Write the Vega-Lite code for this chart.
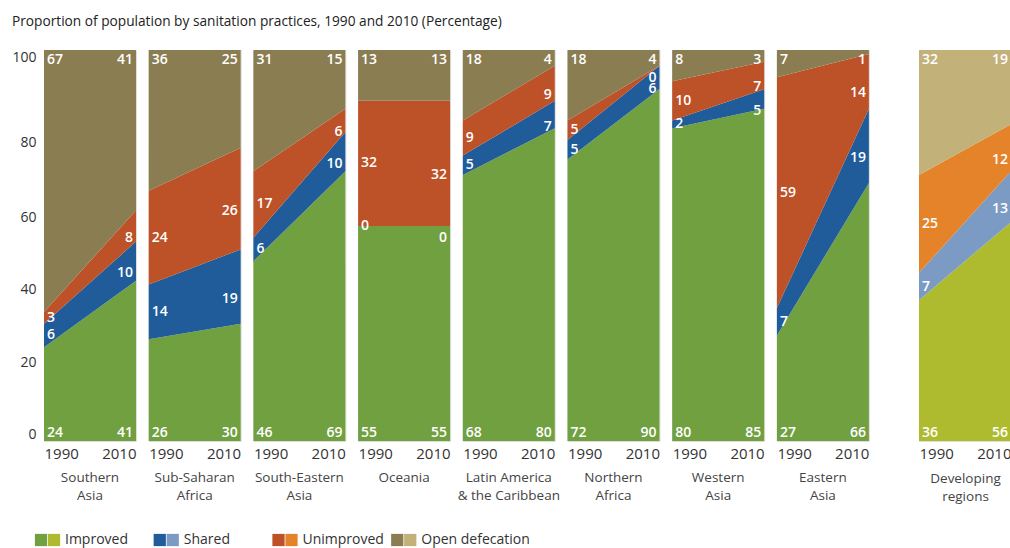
{
  "$schema": "https://vega.github.io/schema/vega-lite/v6.json",
  "background": "white",
  "padding": {"left": 11, "top": 14, "right": 0, "bottom": 0},
  "title": {"text": "Proportion of population by sanitation practices, 1990 and 2010 (Percentage)", "anchor": "start", "frame": "bounds", "font": "Open Sans", "fontSize": 13.7, "fontWeight": "normal", "color": "#222", "offset": 21},
  "config": {
    "font": "Open Sans",
    "view": {"stroke": "#dddddd"},
    "axis": {"ticks": false, "domain": false, "grid": false, "labelFont": "Open Sans", "labelColor": "#333"},
    "axisX": {"labelAngle": 0, "labelFlush": true, "labelFontSize": 15, "labelPadding": 5},
    "axisY": {"labelFontSize": 14, "labelFlush": true, "labelPadding": 8},
    "header": {"labelOrient": "bottom", "labelFont": "Open Sans", "labelFontSize": 13.5, "labelColor": "#444", "labelLineHeight": 18, "labelPadding": 10}
  },
  "datasets": {
    "d": [
      {"region": "Southern Asia", "year": "1990", "cat": "Improved", "k": 1, "value": 24},
      {"region": "Southern Asia", "year": "1990", "cat": "Shared", "k": 2, "value": 6},
      {"region": "Southern Asia", "year": "1990", "cat": "Unimproved", "k": 3, "value": 3},
      {"region": "Southern Asia", "year": "1990", "cat": "Open defecation", "k": 4, "value": 67},
      {"region": "Southern Asia", "year": "2010", "cat": "Improved", "k": 1, "value": 41},
      {"region": "Southern Asia", "year": "2010", "cat": "Shared", "k": 2, "value": 10},
      {"region": "Southern Asia", "year": "2010", "cat": "Unimproved", "k": 3, "value": 8},
      {"region": "Southern Asia", "year": "2010", "cat": "Open defecation", "k": 4, "value": 41},
      {"region": "Sub-Saharan Africa", "year": "1990", "cat": "Improved", "k": 1, "value": 26},
      {"region": "Sub-Saharan Africa", "year": "1990", "cat": "Shared", "k": 2, "value": 14},
      {"region": "Sub-Saharan Africa", "year": "1990", "cat": "Unimproved", "k": 3, "value": 24},
      {"region": "Sub-Saharan Africa", "year": "1990", "cat": "Open defecation", "k": 4, "value": 36},
      {"region": "Sub-Saharan Africa", "year": "2010", "cat": "Improved", "k": 1, "value": 30},
      {"region": "Sub-Saharan Africa", "year": "2010", "cat": "Shared", "k": 2, "value": 19},
      {"region": "Sub-Saharan Africa", "year": "2010", "cat": "Unimproved", "k": 3, "value": 26},
      {"region": "Sub-Saharan Africa", "year": "2010", "cat": "Open defecation", "k": 4, "value": 25},
      {"region": "South-Eastern Asia", "year": "1990", "cat": "Improved", "k": 1, "value": 46},
      {"region": "South-Eastern Asia", "year": "1990", "cat": "Shared", "k": 2, "value": 6},
      {"region": "South-Eastern Asia", "year": "1990", "cat": "Unimproved", "k": 3, "value": 17},
      {"region": "South-Eastern Asia", "year": "1990", "cat": "Open defecation", "k": 4, "value": 31},
      {"region": "South-Eastern Asia", "year": "2010", "cat": "Improved", "k": 1, "value": 69},
      {"region": "South-Eastern Asia", "year": "2010", "cat": "Shared", "k": 2, "value": 10},
      {"region": "South-Eastern Asia", "year": "2010", "cat": "Unimproved", "k": 3, "value": 6},
      {"region": "South-Eastern Asia", "year": "2010", "cat": "Open defecation", "k": 4, "value": 15},
      {"region": "Oceania", "year": "1990", "cat": "Improved", "k": 1, "value": 55},
      {"region": "Oceania", "year": "1990", "cat": "Shared", "k": 2, "value": 0},
      {"region": "Oceania", "year": "1990", "cat": "Unimproved", "k": 3, "value": 32},
      {"region": "Oceania", "year": "1990", "cat": "Open defecation", "k": 4, "value": 13},
      {"region": "Oceania", "year": "2010", "cat": "Improved", "k": 1, "value": 55},
      {"region": "Oceania", "year": "2010", "cat": "Shared", "k": 2, "value": 0},
      {"region": "Oceania", "year": "2010", "cat": "Unimproved", "k": 3, "value": 32},
      {"region": "Oceania", "year": "2010", "cat": "Open defecation", "k": 4, "value": 13},
      {"region": "Latin America & the Caribbean", "year": "1990", "cat": "Improved", "k": 1, "value": 68},
      {"region": "Latin America & the Caribbean", "year": "1990", "cat": "Shared", "k": 2, "value": 5},
      {"region": "Latin America & the Caribbean", "year": "1990", "cat": "Unimproved", "k": 3, "value": 9},
      {"region": "Latin America & the Caribbean", "year": "1990", "cat": "Open defecation", "k": 4, "value": 18},
      {"region": "Latin America & the Caribbean", "year": "2010", "cat": "Improved", "k": 1, "value": 80},
      {"region": "Latin America & the Caribbean", "year": "2010", "cat": "Shared", "k": 2, "value": 7},
      {"region": "Latin America & the Caribbean", "year": "2010", "cat": "Unimproved", "k": 3, "value": 9},
      {"region": "Latin America & the Caribbean", "year": "2010", "cat": "Open defecation", "k": 4, "value": 4},
      {"region": "Northern Africa", "year": "1990", "cat": "Improved", "k": 1, "value": 72},
      {"region": "Northern Africa", "year": "1990", "cat": "Shared", "k": 2, "value": 5},
      {"region": "Northern Africa", "year": "1990", "cat": "Unimproved", "k": 3, "value": 5},
      {"region": "Northern Africa", "year": "1990", "cat": "Open defecation", "k": 4, "value": 18},
      {"region": "Northern Africa", "year": "2010", "cat": "Improved", "k": 1, "value": 90},
      {"region": "Northern Africa", "year": "2010", "cat": "Shared", "k": 2, "value": 6},
      {"region": "Northern Africa", "year": "2010", "cat": "Unimproved", "k": 3, "value": 0},
      {"region": "Northern Africa", "year": "2010", "cat": "Open defecation", "k": 4, "value": 4},
      {"region": "Western Asia", "year": "1990", "cat": "Improved", "k": 1, "value": 80},
      {"region": "Western Asia", "year": "1990", "cat": "Shared", "k": 2, "value": 2},
      {"region": "Western Asia", "year": "1990", "cat": "Unimproved", "k": 3, "value": 10},
      {"region": "Western Asia", "year": "1990", "cat": "Open defecation", "k": 4, "value": 8},
      {"region": "Western Asia", "year": "2010", "cat": "Improved", "k": 1, "value": 85},
      {"region": "Western Asia", "year": "2010", "cat": "Shared", "k": 2, "value": 5},
      {"region": "Western Asia", "year": "2010", "cat": "Unimproved", "k": 3, "value": 7},
      {"region": "Western Asia", "year": "2010", "cat": "Open defecation", "k": 4, "value": 3},
      {"region": "Eastern Asia", "year": "1990", "cat": "Improved", "k": 1, "value": 27},
      {"region": "Eastern Asia", "year": "1990", "cat": "Shared", "k": 2, "value": 7},
      {"region": "Eastern Asia", "year": "1990", "cat": "Unimproved", "k": 3, "value": 59},
      {"region": "Eastern Asia", "year": "1990", "cat": "Open defecation", "k": 4, "value": 7},
      {"region": "Eastern Asia", "year": "2010", "cat": "Improved", "k": 1, "value": 66},
      {"region": "Eastern Asia", "year": "2010", "cat": "Shared", "k": 2, "value": 19},
      {"region": "Eastern Asia", "year": "2010", "cat": "Unimproved", "k": 3, "value": 14},
      {"region": "Eastern Asia", "year": "2010", "cat": "Open defecation", "k": 4, "value": 1},
      {"region": "Developing regions", "year": "1990", "cat": "Improved", "k": 1, "value": 36},
      {"region": "Developing regions", "year": "1990", "cat": "Shared", "k": 2, "value": 7},
      {"region": "Developing regions", "year": "1990", "cat": "Unimproved", "k": 3, "value": 25},
      {"region": "Developing regions", "year": "1990", "cat": "Open defecation", "k": 4, "value": 32},
      {"region": "Developing regions", "year": "2010", "cat": "Improved", "k": 1, "value": 56},
      {"region": "Developing regions", "year": "2010", "cat": "Shared", "k": 2, "value": 13},
      {"region": "Developing regions", "year": "2010", "cat": "Unimproved", "k": 3, "value": 12},
      {"region": "Developing regions", "year": "2010", "cat": "Open defecation", "k": 4, "value": 19}
    ],
    "legend": [
      {"cat": "Improved"},
      {"cat": "Shared"},
      {"cat": "Unimproved"},
      {"cat": "Open defecation"}
    ]
  },
  "vconcat": [
    {
      "hconcat": [
        {
          "data": {"name": "d"},
          "transform": [{"filter": "datum.region != 'Developing regions'"}],
          "facet": {
            "column": {
              "field": "region", "type": "nominal",
              "sort": ["Southern Asia", "Sub-Saharan Africa", "South-Eastern Asia", "Oceania", "Latin America & the Caribbean", "Northern Africa", "Western Asia", "Eastern Asia"],
              "header": {"title": null, "labelExpr": "indexof(datum.value,' & ')>=0 ? split(replace(datum.value,' & ','|& '),'|') : split(replace(datum.value,' ','|'),'|')"}
            }
          },
          "spacing": 12.7,
          "bounds": "flush",
          "spec": {
            "width": 92,
            "height": 391,
            "layer": [
              {
                "mark": {"type": "area", "opacity": 1},
                "encoding": {
                  "x": {"field": "year", "type": "ordinal", "scale": {"type": "point", "padding": 0}, "axis": {"title": null}},
                  "y": {"field": "value", "type": "quantitative", "stack": "zero", "scale": {"domain": [0, 100], "nice": false}, "axis": {"title": null, "values": [0, 20, 40, 60, 80, 100], "labelOffset": {"condition": [{"test": "datum.value == 80", "value": 14}, {"test": "datum.value == 60", "value": 11}, {"test": "datum.value == 40", "value": 5}], "value": 0}}},
                  "color": {"field": "cat", "type": "nominal", "scale": {"domain": ["Improved", "Shared", "Unimproved", "Open defecation"], "range": ["#70a040", "#1f5c99", "#bd5128", "#8b7d52"]}, "legend": null},
                  "order": {"field": "k", "type": "quantitative"}
                }
              },
              {
                "mark": {"type": "text", "color": "white", "fontSize": 14, "fontWeight": 600, "baseline": "middle", "align": {"expr": "datum.year == '1990' ? 'left' : 'right'"}, "dx": {"expr": "datum.year == '1990' ? 3 : -3"}, "dy": {"expr": "datum.year == '1990' ? 0 : 12"}},
                "encoding": {
                  "x": {"field": "year", "type": "ordinal"},
                  "y": {"field": "value", "type": "quantitative", "stack": "zero", "bandPosition": 0.5},
                  "detail": {"field": "cat", "type": "nominal"},
                  "order": {"field": "k", "type": "quantitative"},
                  "text": {"condition": {"test": "datum.cat == 'Improved' || datum.cat == 'Open defecation'", "value": ""}, "field": "value", "type": "quantitative"}
                }
              },
              {
                "transform": [{"filter": "datum.cat == 'Improved'"}],
                "mark": {"type": "text", "color": "white", "fontSize": 14, "fontWeight": 600, "baseline": "alphabetic", "dy": -4, "align": {"expr": "datum.year == '1990' ? 'left' : 'right'"}, "dx": {"expr": "datum.year == '1990' ? 3 : -3"}},
                "encoding": {
                  "x": {"field": "year", "type": "ordinal"},
                  "y": {"datum": 0},
                  "text": {"field": "value", "type": "quantitative"}
                }
              },
              {
                "transform": [{"filter": "datum.cat == 'Open defecation'"}],
                "mark": {"type": "text", "color": "white", "fontSize": 14, "fontWeight": 600, "baseline": "top", "dy": 3, "align": {"expr": "datum.year == '1990' ? 'left' : 'right'"}, "dx": {"expr": "datum.year == '1990' ? 3 : -3"}},
                "encoding": {
                  "x": {"field": "year", "type": "ordinal"},
                  "y": {"datum": 100},
                  "text": {"field": "value", "type": "quantitative"}
                }
              }
            ]
          }
        },
        {
          "data": {"name": "d"},
          "transform": [{"filter": "datum.region == 'Developing regions'"}],
          "width": 92,
          "height": 391,
          "layer": [
            {
              "mark": {"type": "area", "opacity": 1},
              "encoding": {
                "x": {"field": "year", "type": "ordinal", "scale": {"type": "point", "padding": 0}, "axis": {"title": ["Developing", "regions"], "titleFont": "Open Sans", "titleFontSize": 13.5, "titleFontWeight": "normal", "titleColor": "#444", "titleLineHeight": 18, "titlePadding": 10}},
                "y": {"field": "value", "type": "quantitative", "stack": "zero", "scale": {"domain": [0, 100], "nice": false}, "axis": null},
                "color": {"field": "cat", "type": "nominal", "scale": {"domain": ["Improved", "Shared", "Unimproved", "Open defecation"], "range": ["#afbb2e", "#7b9bc4", "#e4832a", "#c3b17a"]}, "legend": null},
                "order": {"field": "k", "type": "quantitative"}
              }
            },
            {
              "mark": {"type": "text", "color": "white", "fontSize": 14, "fontWeight": 600, "baseline": "middle", "align": {"expr": "datum.year == '1990' ? 'left' : 'right'"}, "dx": {"expr": "datum.year == '1990' ? 3 : -3"}, "dy": {"expr": "datum.year == '1990' ? 0 : 12"}},
              "encoding": {
                "x": {"field": "year", "type": "ordinal"},
                "y": {"field": "value", "type": "quantitative", "stack": "zero", "bandPosition": 0.5},
                "detail": {"field": "cat", "type": "nominal"},
                "order": {"field": "k", "type": "quantitative"},
                "text": {"condition": {"test": "datum.cat == 'Improved' || datum.cat == 'Open defecation'", "value": ""}, "field": "value", "type": "quantitative"}
              }
            },
            {
              "transform": [{"filter": "datum.cat == 'Improved'"}],
              "mark": {"type": "text", "color": "white", "fontSize": 14, "fontWeight": 600, "baseline": "alphabetic", "dy": -4, "align": {"expr": "datum.year == '1990' ? 'left' : 'right'"}, "dx": {"expr": "datum.year == '1990' ? 3 : -3"}},
              "encoding": {
                "x": {"field": "year", "type": "ordinal"},
                "y": {"datum": 0},
                "text": {"field": "value", "type": "quantitative"}
              }
            },
            {
              "transform": [{"filter": "datum.cat == 'Open defecation'"}],
              "mark": {"type": "text", "color": "white", "fontSize": 14, "fontWeight": 600, "baseline": "top", "dy": 3, "align": {"expr": "datum.year == '1990' ? 'left' : 'right'"}, "dx": {"expr": "datum.year == '1990' ? 3 : -3"}},
              "encoding": {
                "x": {"field": "year", "type": "ordinal"},
                "y": {"datum": 100},
                "text": {"field": "value", "type": "quantitative"}
              }
            }
          ]
        }
      ],
      "spacing": 48,
      "resolve": {"scale": {"color": "independent"}}
    },
    {
      "data": {"name": "legend"},
      "width": 475,
      "height": 16,
      "view": {"stroke": null},
      "layer": [
        {
          "mark": {"type": "square", "size": 150, "opacity": 1, "xOffset": -3},
          "encoding": {
            "x": {"field": "cat", "type": "nominal", "sort": ["Improved", "Shared", "Unimproved", "Open defecation"], "scale": {"type": "band", "paddingInner": 0, "paddingOuter": 0}, "axis": null, "bandPosition": 0},
            "color": {"field": "cat", "type": "nominal", "scale": {"domain": ["Improved", "Shared", "Unimproved", "Open defecation"], "range": ["#70a040", "#1f5c99", "#bd5128", "#8b7d52"]}, "legend": null}
          }
        },
        {
          "mark": {"type": "square", "size": 150, "opacity": 1, "xOffset": 10},
          "encoding": {
            "x": {"field": "cat", "type": "nominal", "sort": ["Improved", "Shared", "Unimproved", "Open defecation"], "axis": null, "bandPosition": 0},
            "color": {"field": "cat", "type": "nominal", "scale": {"domain": ["Improved", "Shared", "Unimproved", "Open defecation"], "range": ["#afbb2e", "#7b9bc4", "#e4832a", "#c3b17a"]}, "legend": null}
          }
        },
        {
          "mark": {"type": "text", "align": "left", "baseline": "middle", "xOffset": 21, "fontSize": 14, "color": "#333"},
          "encoding": {
            "x": {"field": "cat", "type": "nominal", "sort": ["Improved", "Shared", "Unimproved", "Open defecation"], "axis": null, "bandPosition": 0},
            "text": {"field": "cat", "type": "nominal"}
          }
        }
      ],
      "resolve": {"scale": {"color": "independent"}}
    }
  ],
  "spacing": 29,
  "resolve": {"scale": {"color": "independent"}}
}
